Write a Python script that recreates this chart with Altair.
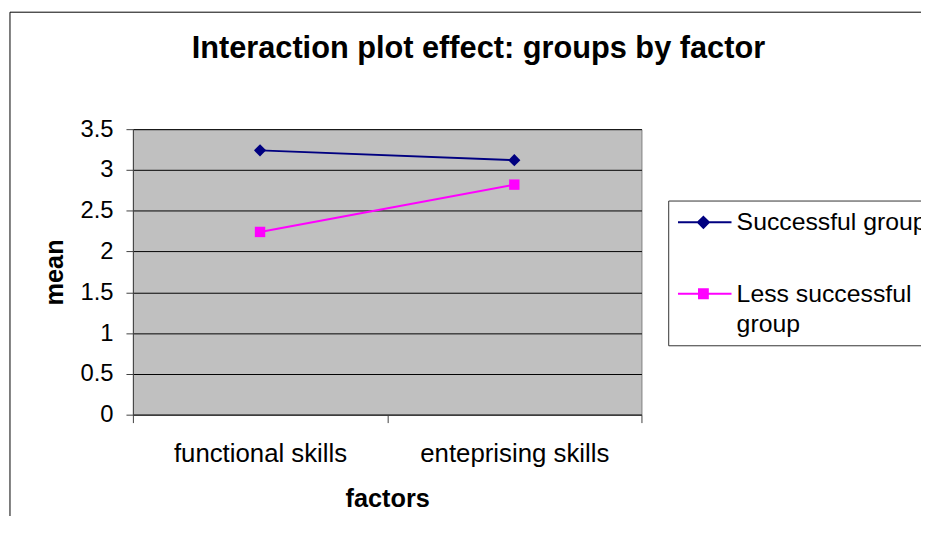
import altair as alt
import pandas as pd

categories = ["functional skills", "enteprising skills"]
series_names = ["Successful group", "Less successful group"]
successful = [3.24, 3.12]
less_successful = [2.24, 2.82]
y_ticks = [0, 0.5, 1, 1.5, 2, 2.5, 3, 3.5]

colors = ["#000080", "#FF00FF"]
marker_shapes = ["diamond", "square"]
marker_sizes = [150, 110]
legend_paths = [
    "M-0.9,0L3.1,0M1,-0.41L1.41,0L1,0.41L0.59,0Z",
    "M-0.9,0L3.1,0M0.67,-0.33L1.33,-0.33L1.33,0.33L0.67,0.33Z",
]

rows = []
for name, vals in zip(series_names, [successful, less_successful]):
    for c, v in zip(categories, vals):
        rows.append({"factor": c, "group": name, "mean": v})
df = pd.DataFrame(rows)

FONT = "Liberation Sans"

x_enc = alt.X(
    "factor:N",
    sort=categories,
    scale=alt.Scale(type="band", paddingInner=0, paddingOuter=0),
    axis=alt.Axis(
        title="factors", labelAngle=0, tickBand="extent", grid=False,
        tickSize=8, labelPadding=18, labelFontSize=26, labelFont=FONT,
        labelColor="black", labelLimit=400, titleFont=FONT, titleFontSize=25.5,
        titleFontWeight="bold", titleColor="black", titlePadding=21,
        domainColor="#404040", tickColor="#404040",
    ),
)
y_enc = alt.Y(
    "mean:Q",
    scale=alt.Scale(domain=[0, 3.5], nice=False, zero=True),
    axis=alt.Axis(
        title="mean", values=y_ticks, format="~g", grid=True,
        gridColor="black", gridOpacity=1, gridWidth=1,
        tickSize=7, labelPadding=13, labelFontSize=24, labelFont=FONT,
        labelColor="black", titleFont=FONT, titleFontSize=25.5,
        titleFontWeight="bold", titleColor="black", titlePadding=13,
        domainColor="#404040", tickColor="#404040",
    ),
)

border = alt.Chart(alt.Data(values=[{}])).mark_rect(
    fillOpacity=0, stroke="#000000", strokeWidth=1
).encode(x=alt.value(-124), x2=alt.value(900), y=alt.value(-118), y2=alt.value(600))

layers = [border]
for name, col, shp, sz in zip(series_names, colors, marker_shapes, marker_sizes):
    base = alt.Chart(df).transform_filter(alt.datum.group == name)
    layers.append(base.mark_line(strokeWidth=2, color=col).encode(x=x_enc, y=y_enc))
    layers.append(
        base.mark_point(shape=shp, filled=True, size=sz, opacity=1, color=col).encode(x=x_enc, y=y_enc)
    )

leg = alt.Legend(
    title=None, orient="none", legendX=540, legendY=72, padding=7.5,
    strokeColor="#333333", fillColor="white", cornerRadius=0,
    symbolSize=729, symbolStrokeWidth=2, symbolOpacity=1,
    labelFont=FONT, labelFontSize=25, labelColor="black", labelOffset=32.5,
    labelLimit=500, rowPadding=44,
    labelExpr="datum.label == 'Less successful group' ? ['Less successful', 'group'] : datum.label",
)
legend_layer = alt.Chart(df).mark_point(filled=True, opacity=0).encode(
    x=x_enc, y=y_enc,
    fill=alt.Fill("group:N", scale=alt.Scale(domain=series_names, range=colors), legend=leg),
    stroke=alt.Stroke("group:N", scale=alt.Scale(domain=series_names, range=colors), legend=leg),
    shape=alt.Shape("group:N", scale=alt.Scale(domain=series_names, range=legend_paths), legend=leg),
)
layers.append(legend_layer)

chart = alt.layer(*layers).properties(
    width=513, height=288,
    title=alt.TitleParams(
        "Interaction plot effect: groups by factor", font=FONT, fontSize=31,
        fontWeight="bold", color="black", anchor="middle", dx=92, offset=0,
        baseline="alphabetic", dy=78,
    ),
    autosize=alt.AutoSizeParams(type="none"),
    padding={"left": 126, "top": 120, "right": 282, "bottom": 100},
)

view_cfg = alt.ViewConfig(fill="#C0C0C0", stroke="#808080", strokeWidth=1)
try:
    final = chart.configure(view=view_cfg, style={"guide-label": {"lineHeight": 31}})
    final.to_dict()
except Exception:
    final = chart.configure(view=view_cfg)

final.save("out.html", embed_options={"renderer": "svg", "actions": False})
